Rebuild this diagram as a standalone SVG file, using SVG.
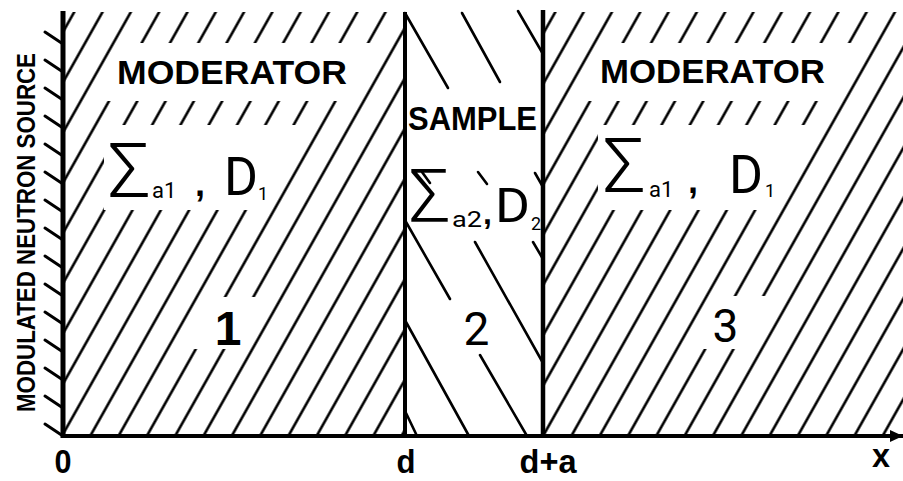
<svg xmlns="http://www.w3.org/2000/svg" width="903" height="481" viewBox="0 0 903 481">
<defs>
<style>
.hl{stroke:#000;stroke-width:2.6;stroke-linecap:round;fill:none}
.tick{stroke:#000;stroke-width:3;stroke-linecap:round}
.frame{stroke:#000;fill:none}
.mask{fill:#fff}
.bold{font-family:"Liberation Sans",Arial,sans-serif;font-weight:bold;fill:#000}
.reg{font-family:Roboto,"Liberation Sans",Arial,sans-serif;font-weight:400;fill:#000}
.thin{font-family:Roboto,"Liberation Sans",Arial,sans-serif;font-weight:300;fill:#000}
</style>
<pattern id="hatch" patternUnits="userSpaceOnUse" width="28.3" height="500" patternTransform="skewX(-29.38)">
<line x1="24.4" y1="-5" x2="24.4" y2="505" stroke="#000" stroke-width="3"/>
</pattern>
<marker id="arrow" markerUnits="userSpaceOnUse" markerWidth="14" markerHeight="12" refX="13" refY="6" orient="auto">
<path d="M0,0 L13,6 L0,12 z" fill="#000"/>
</marker>
</defs>
<rect width="903" height="481" fill="#fff"/>

<g id="region1">
<rect x="63" y="12" width="342" height="424" fill="url(#hatch)"/>
<polygon class="mask" points="127.5,43 382.2,43 349.6,101 94.9,101"/>
<polygon class="mask" points="104,125 310.9,125 263.1,210 104,210"/>
<polygon class="mask" points="210.9,297 267.5,297 238.3,349 181.7,349"/>
<text class="bold" x="117" y="84" font-size="33" textLength="230" lengthAdjust="spacingAndGlyphs">MODERATOR</text>
<text class="thin" x="108" y="197" font-size="76">Σ</text>
<text class="reg" x="152" y="198" font-size="22">a1</text>
<text class="bold" x="195" y="196" font-size="36">,</text>
<text class="reg" x="224" y="195" font-size="53" textLength="34" lengthAdjust="spacingAndGlyphs">D</text>
<text class="reg" x="258" y="200" font-size="18">1</text>
<text class="bold" x="228" y="345" font-size="48" text-anchor="middle">1</text>
</g>

<g id="region2">
<line class="hl" x1="405" y1="13" x2="448" y2="88"/>
<line class="hl" x1="462" y1="13" x2="500" y2="82"/>
<line class="hl" x1="518" y1="11" x2="543" y2="54"/>
<line class="hl" x1="422" y1="172" x2="430" y2="183"/>
<line class="hl" x1="478" y1="172" x2="487" y2="184"/>
<line class="hl" x1="535" y1="173" x2="543" y2="187"/>
<line class="hl" x1="406" y1="222" x2="450" y2="299"/>
<line class="hl" x1="475" y1="242" x2="543" y2="363"/>
<line class="hl" x1="533" y1="242" x2="543" y2="259"/>
<line class="hl" x1="406" y1="322" x2="469" y2="436"/>
<line class="hl" x1="480" y1="355" x2="527" y2="436"/>
<line class="hl" x1="406" y1="413" x2="417" y2="436"/>
<text class="bold" x="408" y="130" font-size="33" textLength="129" lengthAdjust="spacingAndGlyphs">SAMPLE</text>
<text class="thin" x="409" y="222" font-size="74">Σ</text>
<text class="reg" x="452" y="227" font-size="22" textLength="30" lengthAdjust="spacingAndGlyphs">a2</text>
<text class="bold" x="483" y="224" font-size="32">,</text>
<text class="reg" x="495" y="222" font-size="49" textLength="35" lengthAdjust="spacingAndGlyphs">D</text>
<text class="reg" x="531" y="230" font-size="18">2</text>
<text class="reg" x="476.5" y="345" font-size="46" text-anchor="middle">2</text>
</g>

<g id="region3">
<rect x="543" y="12" width="360" height="424" fill="url(#hatch)"/>
<polygon class="mask" points="605.6,43 863.3,43 830.7,101 573,101"/>
<polygon class="mask" points="598,125 819,125 771.2,210 598,210"/>
<polygon class="mask" points="719,296 777.4,296 747.5,349 689.2,349"/>
<text class="bold" x="600" y="83" font-size="33" textLength="225" lengthAdjust="spacingAndGlyphs">MODERATOR</text>
<text class="thin" x="603" y="192" font-size="76">Σ</text>
<text class="reg" x="649" y="197" font-size="22">a1</text>
<text class="bold" x="688" y="193" font-size="36">,</text>
<text class="reg" x="729" y="193" font-size="53" textLength="34" lengthAdjust="spacingAndGlyphs">D</text>
<text class="reg" x="765" y="197" font-size="18">1</text>
<text class="reg" x="725.5" y="342" font-size="46" text-anchor="middle">3</text>
</g>

<g id="source">
<line class="frame" x1="63" y1="11" x2="63" y2="438" stroke-width="5"/>
<g id="ticks">
<line class="tick" x1="45" y1="32" x2="63" y2="44"/>
<line class="tick" x1="45" y1="60" x2="63" y2="72"/>
<line class="tick" x1="45" y1="88" x2="63" y2="100"/>
<line class="tick" x1="45" y1="116" x2="63" y2="128"/>
<line class="tick" x1="45" y1="144" x2="63" y2="156"/>
<line class="tick" x1="45" y1="172" x2="63" y2="184"/>
<line class="tick" x1="45" y1="200" x2="63" y2="212"/>
<line class="tick" x1="45" y1="228" x2="63" y2="240"/>
<line class="tick" x1="45" y1="256" x2="63" y2="268"/>
<line class="tick" x1="45" y1="284" x2="63" y2="296"/>
<line class="tick" x1="45" y1="312" x2="63" y2="324"/>
<line class="tick" x1="45" y1="340" x2="63" y2="352"/>
<line class="tick" x1="45" y1="368" x2="63" y2="380"/>
<line class="tick" x1="45" y1="396" x2="63" y2="408"/>
<line class="tick" x1="45" y1="424" x2="63" y2="436"/>
</g>
<text class="bold" transform="translate(35,412) rotate(-90)" font-size="25" textLength="359" lengthAdjust="spacingAndGlyphs">MODULATED NEUTRON SOURCE</text>
</g>

<g id="boundaries">
<line class="frame" x1="405" y1="12" x2="405" y2="438" stroke-width="4"/>
<line class="frame" x1="543" y1="10" x2="543" y2="438" stroke-width="4.5"/>
</g>

<g id="connectors">
<line class="frame" x1="61" y1="436" x2="903" y2="436" stroke-width="4" marker-end="url(#arrow)"/>
</g>

<g id="axis-labels">
<text class="bold" x="63" y="473" font-size="34" text-anchor="middle" textLength="17" lengthAdjust="spacingAndGlyphs">0</text>
<text class="bold" x="406" y="473" font-size="34" text-anchor="middle" textLength="19" lengthAdjust="spacingAndGlyphs">d</text>
<text class="bold" x="548" y="473" font-size="34" text-anchor="middle" textLength="57" lengthAdjust="spacingAndGlyphs">d+a</text>
<text class="bold" x="881" y="467" font-size="34" text-anchor="middle" textLength="18" lengthAdjust="spacingAndGlyphs">x</text>
</g>
</svg>
